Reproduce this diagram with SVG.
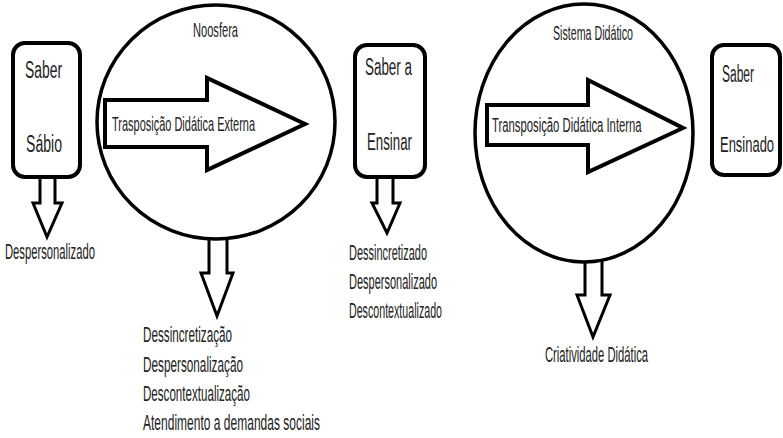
<svg xmlns="http://www.w3.org/2000/svg" width="783" height="438" viewBox="0 0 783 438">
<style>
.box{fill:#fff;stroke:#000;stroke-width:4}
.circ{fill:#fff;stroke:#000;stroke-width:3.5}
.big{fill:#fff;stroke:#000;stroke-width:4;stroke-linejoin:miter}
.dn{fill:#fff;stroke:#000;stroke-width:3;stroke-linejoin:miter}
text{font-family:"Liberation Sans",Arial,sans-serif;fill:#222;font-size:22px}
.lb{font-size:23px}
.in{font-size:21px}
</style>
<rect width="783" height="438" fill="#fff"/>
<g id="connectors">
<path class="dn" d="M40,178 V203 H33 L47,237 L62,203 H55 V178"/>
<path class="dn" d="M209,239 V273 H201 L217,316 L233,273 H227 V239"/>
<path class="dn" d="M377,178 V203 H372 L387,233 L400,203 H393 V178"/>
<path class="dn" d="M585,261 V295 H577 L593,337 L610,295 H602 V261"/>
</g>
<g id="saber-sabio">
<rect class="box" x="13" y="43" width="67" height="134" rx="12"/>
<text class="lb" x="25" y="78" textLength="37" lengthAdjust="spacingAndGlyphs">Saber</text>
<text class="lb" x="26" y="152" textLength="36" lengthAdjust="spacingAndGlyphs">Sábio</text>
</g>
<g id="noosfera">
<ellipse class="circ" cx="216" cy="122" rx="119" ry="117"/>
<text class="in" x="193" y="37" textLength="45" lengthAdjust="spacingAndGlyphs">Noosfera</text>
<path class="big" d="M105,100 H207 V78 L305,124 L207,170 V147 H105 Z"/>
<text class="in" x="112" y="131" textLength="143" lengthAdjust="spacingAndGlyphs">Trasposição Didática Externa</text>
</g>
<g id="saber-a-ensinar">
<rect class="box" x="355" y="45" width="70" height="132" rx="12"/>
<text class="lb" x="365" y="75" textLength="47" lengthAdjust="spacingAndGlyphs">Saber a</text>
<text class="lb" x="367" y="150" textLength="45" lengthAdjust="spacingAndGlyphs">Ensinar</text>
</g>
<g id="sistema-didatico">
<ellipse class="circ" cx="584" cy="133" rx="109" ry="129"/>
<text class="in" x="553" y="40" textLength="80" lengthAdjust="spacingAndGlyphs">Sistema Didático</text>
<path class="big" d="M487,105 H588 V80 L683,128 L588,172 V145 H487 Z"/>
<text class="in" transform="translate(492,132) scale(0.538,1)">Transposição Didática Interna</text>
</g>
<g id="saber-ensinado">
<rect class="box" x="712" y="45" width="68" height="130" rx="12"/>
<text class="lb" x="722" y="82" textLength="32" lengthAdjust="spacingAndGlyphs">Saber</text>
<text transform="translate(720,152) scale(0.59,1)">Ensinado</text>
</g>
<g id="label-sabio">
<text x="5" y="259" textLength="90" lengthAdjust="spacingAndGlyphs">Despersonalizado</text>
</g>
<g id="label-noosfera">
<text x="143" y="342" textLength="89" lengthAdjust="spacingAndGlyphs">Dessincretização</text>
<text x="143" y="372" textLength="100" lengthAdjust="spacingAndGlyphs">Despersonalização</text>
<text x="143" y="401" textLength="107" lengthAdjust="spacingAndGlyphs">Descontextualização</text>
<text x="143" y="430" textLength="177" lengthAdjust="spacingAndGlyphs">Atendimento a demandas sociais</text>
</g>
<g id="label-ensinar">
<text x="349" y="260" textLength="78" lengthAdjust="spacingAndGlyphs">Dessincretizado</text>
<text x="349" y="289" textLength="88" lengthAdjust="spacingAndGlyphs">Despersonalizado</text>
<text x="349" y="318" textLength="93" lengthAdjust="spacingAndGlyphs">Descontextualizado</text>
</g>
<g id="label-sistema">
<text x="545" y="362" textLength="103" lengthAdjust="spacingAndGlyphs">Criatividade Didática</text>
</g>
</svg>
